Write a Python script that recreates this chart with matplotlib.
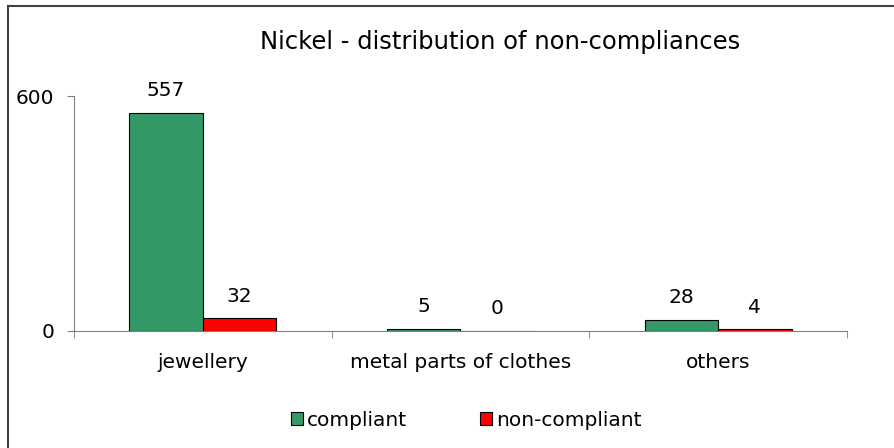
import matplotlib
matplotlib.use("Agg")
import matplotlib.pyplot as plt
import numpy as np
from matplotlib.lines import Line2D

categories = ["jewellery", "metal parts of clothes", "others"]
compliant = [557, 5, 28]
non_compliant = [32, 0, 4]
series_names = ["compliant", "non-compliant"]
title = "Nickel - distribution of non-compliances"

plt.rcParams["font.family"] = "DejaVu Sans"
fs = 14.5

fig = plt.figure(figsize=(8.95, 4.48), dpi=100)
ax = fig.add_axes([74 / 895, 1 - 331 / 448, 773 / 895, 235 / 448])

x = np.arange(len(categories))
w = 0.285
b1 = ax.bar(x - w / 2, compliant, w, color="#339966", edgecolor="black", linewidth=0.8, label=series_names[0])
b2 = ax.bar(x + w / 2, non_compliant, w, color="#FF0000", edgecolor="black", linewidth=0.8, label=series_names[1])

# value labels above bars
for bars in (b1, b2):
    for r in bars:
        ax.annotate(str(int(r.get_height())), (r.get_x() + r.get_width() / 2, r.get_height()),
                    xytext=(0, 16), textcoords="offset points", ha="center", va="center", fontsize=fs)

ax.set_xlim(-0.5, len(categories) - 0.5)
ax.set_ylim(0, 600)
ax.set_yticks([0, 600])
ax.set_xticks(x)
ax.set_xticklabels(categories, fontsize=fs)
ax.set_xticks(np.arange(len(categories) + 1) - 0.5, minor=True)
ax.tick_params(axis="x", which="major", length=0, pad=15.5)
ax.tick_params(axis="x", which="minor", length=5, color="#808080", direction="out")
ax.tick_params(axis="y", length=5, color="#808080", labelsize=fs, pad=9)

for s in ["top", "right"]:
    ax.spines[s].set_visible(False)
for s in ["left", "bottom"]:
    ax.spines[s].set_color("#808080")

fig.text(500 / 895, 1 - 42 / 448, title, ha="center", va="center", fontsize=17.5)

ax.legend(loc="center", bbox_to_anchor=((466 - 74) / 773, (331 - 420) / 235), ncol=2, frameon=False,
          fontsize=fs, handlelength=0.6, handleheight=0.6, handletextpad=0.2, columnspacing=3.6,
          borderaxespad=0)

fig.add_artist(Line2D([8 / 895, 8 / 895], [0, 1 - 6 / 448], color="#404040", linewidth=1.5))
fig.add_artist(Line2D([8 / 895, 1], [1 - 6 / 448, 1 - 6 / 448], color="#404040", linewidth=1.5))

fig.savefig("out.png", dpi=100)
